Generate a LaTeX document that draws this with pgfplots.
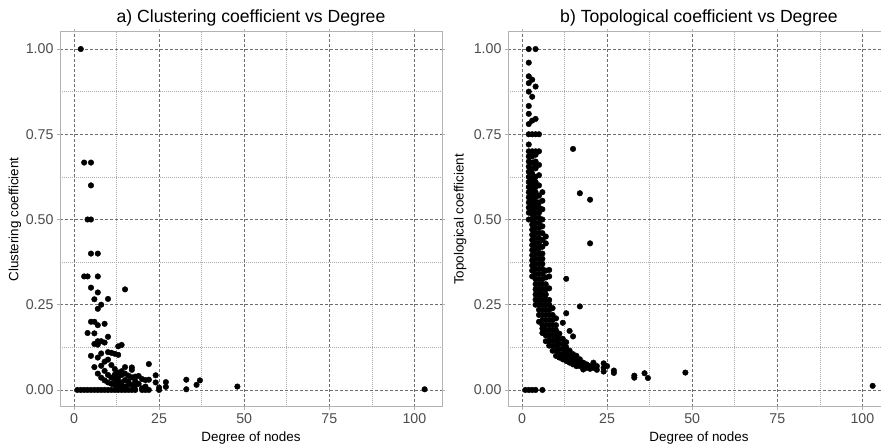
\documentclass[border=0pt]{standalone}
\usepackage{pgfplots}
\pgfplotsset{compat=1.18}
\usepackage{fontspec}
\setmainfont{Liberation Sans}

\definecolor{tickgray}{HTML}{4D4D4D}
\definecolor{bordergray}{HTML}{B3B3B3}
\definecolor{majorgray}{HTML}{6E6E6E}
\definecolor{minorgray}{HTML}{ABABAB}

\pgfplotsset{
  panel/.style={
    scale only axis, width=382pt, height=375pt,
    xmin=-4.1, xmax=108.1, ymin=-0.05, ymax=1.05,
    xtick={0,25,50,75,100}, minor xtick={12.5,37.5,62.5,87.5},
    ytick={0,0.25,0.5,0.75,1}, minor ytick={0.125,0.375,0.625,0.875},
    grid=both,
    major grid style={dash pattern=on 3pt off 2pt, majorgray, line width=0.9pt},
    minor grid style={dash pattern=on 1pt off 1pt, minorgray, line width=0.6pt},
    axis line style={bordergray, line width=1pt},
    tick align=outside, major tick length=3pt, minor tick length=0pt,
    tick style={bordergray, line width=0.9pt},
    /pgf/number format/assume math mode=true,
    tick label style={font=\fontsize{14.2}{16}\selectfont, text=tickgray},
    yticklabel style={/pgf/number format/fixed, /pgf/number format/precision=2,
      /pgf/number format/fixed zerofill},
    every axis title/.style={at={(0.5,1)}, anchor=base, yshift=9.5pt,
      font=\fontsize{17.6}{20}\selectfont},
    every axis x label/.style={at={(axis description cs:0.5,-0.092)}, anchor=base,
      font=\fontsize{13.4}{16}\selectfont},
    every axis y label/.style={rotate=90, anchor=center,
      font=\fontsize{13.4}{16}\selectfont},
    dots/.style={only marks, mark=*, mark size=2.8pt, black,
      mark options={draw=black, fill=black}},
  }
}

\begin{document}
\begin{tikzpicture}

% a) clustering coefficient
\begin{axis}[panel, at={(60pt,39pt)}, anchor=south west,
  title={a) Clustering coefficient vs Degree},
  xlabel={Degree of nodes}, ylabel={Clustering coefficient},
  ylabel style={at={(axis description cs:-0.118,0.5)}},
]
\addplot[dots] coordinates {
  (1,0) (2,0) (3,0) (4,0) (5,0) (6,0) (7,0) (8,0) (9,0) (10,0) (11,0) (12,0)
  (13,0) (14,0) (15,0) (16,0) (17,0) (18,0) (20,0) (21,0) (22,0) (25,0)
  (2,1.0)
  (3,0.667) (3,0.333)
  (4,0.5) (4,0.333) (4,0.167)
  (5,0.667) (5,0.6) (5,0.5) (5,0.4) (5,0.3) (5,0.2) (5,0.1)
  (6,0.266) (6,0.2) (6,0.166) (6,0.135) (6,0.067)
  (7,0.4) (7,0.333) (7,0.286) (7,0.238) (7,0.19) (7,0.143) (7,0.133) (7,0.095) (7,0.048)
  (8,0.25) (8,0.143) (8,0.107) (8,0.071) (8,0.036)
  (9,0.194) (9,0.139) (9,0.083) (9,0.056) (9,0.028)
  (10,0.267) (10,0.156) (10,0.111) (10,0.089) (10,0.044) (10,0.022)
  (11,0.109) (11,0.073) (11,0.036) (11,0.018)
  (12,0.106) (12,0.061) (12,0.045) (12,0.03) (12,0.015)
  (13,0.128) (13,0.103) (13,0.051) (13,0.038) (13,0.026) (13,0.013)
  (14,0.132) (14,0.055) (14,0.044) (14,0.022) (14,0.011)
  (15,0.295) (15,0.067) (15,0.048) (15,0.029) (15,0.01)
  (16,0.042) (16,0.025) (16,0.017)
  (17,0.066) (17,0.059) (17,0.037) (17,0.015)
  (18,0.039) (18,0.026) (18,0.013)
  (19,0.041) (19,0.018)
  (20,0.032) (20,0.005)
  (21,0.029) (21,0.01)
  (22,0.076) (22,0.03)
  (24,0.043) (24,0.022)
  (25,0.007)
  (27,0.023) (27,0.009)
  (33,0.03) (33,0.002)
  (36,0.015) (37,0.028)
  (48,0.01) (103,0.002)
};
\end{axis}

% b) topological coefficient
\begin{axis}[panel, at={(508pt,39pt)}, anchor=south west,
  title={b) Topological coefficient vs Degree},
  xlabel={Degree of nodes}, ylabel={Topological coefficient},
  ylabel style={at={(axis description cs:-0.125,0.5)}},
]
\addplot[dots] coordinates {
  (1,0) (2,0) (3,0) (4,0) (6,0)
  (2,1.00) (2,0.96) (2,0.92) (2,0.90) (2,0.875) (2,0.833) (2,0.81) (2,0.78) (2,0.75)
  (2,0.72) (2,0.70) (2,0.685) (2,0.67) (2,0.655) (2,0.64) (2,0.625) (2,0.61) (2,0.595)
  (2,0.58) (2,0.565) (2,0.55) (2,0.535) (2,0.52) (2,0.50)
  (3,0.91) (3,0.86) (3,0.79) (3,0.75) (3,0.70) (3,0.685) (3,0.667) (3,0.65) (3,0.635)
  (3,0.62) (3,0.605) (3,0.59) (3,0.575) (3,0.56) (3,0.545) (3,0.53) (3,0.515) (3,0.50)
  (3,0.485) (3,0.47) (3,0.455) (3,0.44) (3,0.425) (3,0.41) (3,0.395) (3,0.38) (3,0.365)
  (3,0.35) (3,0.333)
  (4,1.00) (4,0.89) (4,0.795) (4,0.75) (4,0.70) (4,0.69) (4,0.67) (4,0.66) (4,0.65)
  (4,0.625) (4,0.61) (4,0.595) (4,0.58) (4,0.565) (4,0.55) (4,0.535) (4,0.52) (4,0.505)
  (4,0.49) (4,0.475) (4,0.46) (4,0.445) (4,0.43) (4,0.415) (4,0.40) (4,0.385) (4,0.37)
  (4,0.355) (4,0.34) (4,0.325) (4,0.31) (4,0.295) (4,0.28) (4,0.265) (4,0.25)
  (5,0.75) (5,0.70) (5,0.66) (5,0.63) (5,0.60) (5,0.57) (5,0.55) (5,0.535) (5,0.52)
  (5,0.505) (5,0.49) (5,0.475) (5,0.46) (5,0.445) (5,0.43) (5,0.415) (5,0.40) (5,0.385)
  (5,0.37) (5,0.355) (5,0.34) (5,0.325) (5,0.31) (5,0.295) (5,0.28) (5,0.265) (5,0.25)
  (5,0.235) (5,0.22) (5,0.20)
  (6,0.58) (6,0.555) (6,0.53) (6,0.50) (6,0.48) (6,0.46) (6,0.44) (6,0.42) (6,0.40)
  (6,0.385) (6,0.37) (6,0.355) (6,0.34) (6,0.325) (6,0.31) (6,0.295) (6,0.28) (6,0.265)
  (6,0.25) (6,0.235) (6,0.22) (6,0.205) (6,0.19) (6,0.18) (6,0.167)
  (7,0.45) (7,0.43) (7,0.35) (7,0.33) (7,0.31) (7,0.295) (7,0.28) (7,0.265) (7,0.25)
  (7,0.235) (7,0.22) (7,0.205) (7,0.19) (7,0.175) (7,0.16) (7,0.143)
  (8,0.352) (8,0.333) (8,0.298) (8,0.264) (8,0.25) (8,0.235) (8,0.22) (8,0.205) (8,0.19)
  (8,0.175) (8,0.16) (8,0.145) (8,0.13)
  (9,0.24) (9,0.22) (9,0.205) (9,0.19) (9,0.175) (9,0.16) (9,0.145) (9,0.13) (9,0.115)
  (10,0.21) (10,0.19) (10,0.175) (10,0.16) (10,0.145) (10,0.13) (10,0.115) (10,0.10)
  (11,0.165) (11,0.15) (11,0.135) (11,0.12) (11,0.105) (11,0.095)
  (12,0.197) (12,0.15) (12,0.135) (12,0.12) (12,0.105) (12,0.09)
  (13,0.326) (13,0.225) (13,0.14) (13,0.125) (13,0.11) (13,0.095) (13,0.085)
  (14,0.173) (14,0.115) (14,0.10) (14,0.09) (14,0.08)
  (15,0.707) (15,0.157) (15,0.105) (15,0.09) (15,0.08) (15,0.075)
  (16,0.10) (16,0.09) (16,0.08) (16,0.07)
  (17,0.577) (17,0.245) (17,0.09) (17,0.08) (17,0.07)
  (18,0.08) (18,0.07) (18,0.06)
  (19,0.075) (19,0.065)
  (20,0.558) (20,0.43) (20,0.07) (20,0.062)
  (21,0.08) (21,0.065)
  (22,0.07) (22,0.059)
  (24,0.078) (24,0.065) (24,0.054)
  (25,0.07)
  (27,0.057) (27,0.05)
  (33,0.042) (33,0.036)
  (36,0.049) (37,0.035)
  (48,0.051) (103,0.012)
};
\end{axis}

\pgfresetboundingbox
\path[use as bounding box] (0pt,0pt) rectangle (881pt,446pt);
\end{tikzpicture}
\end{document}
